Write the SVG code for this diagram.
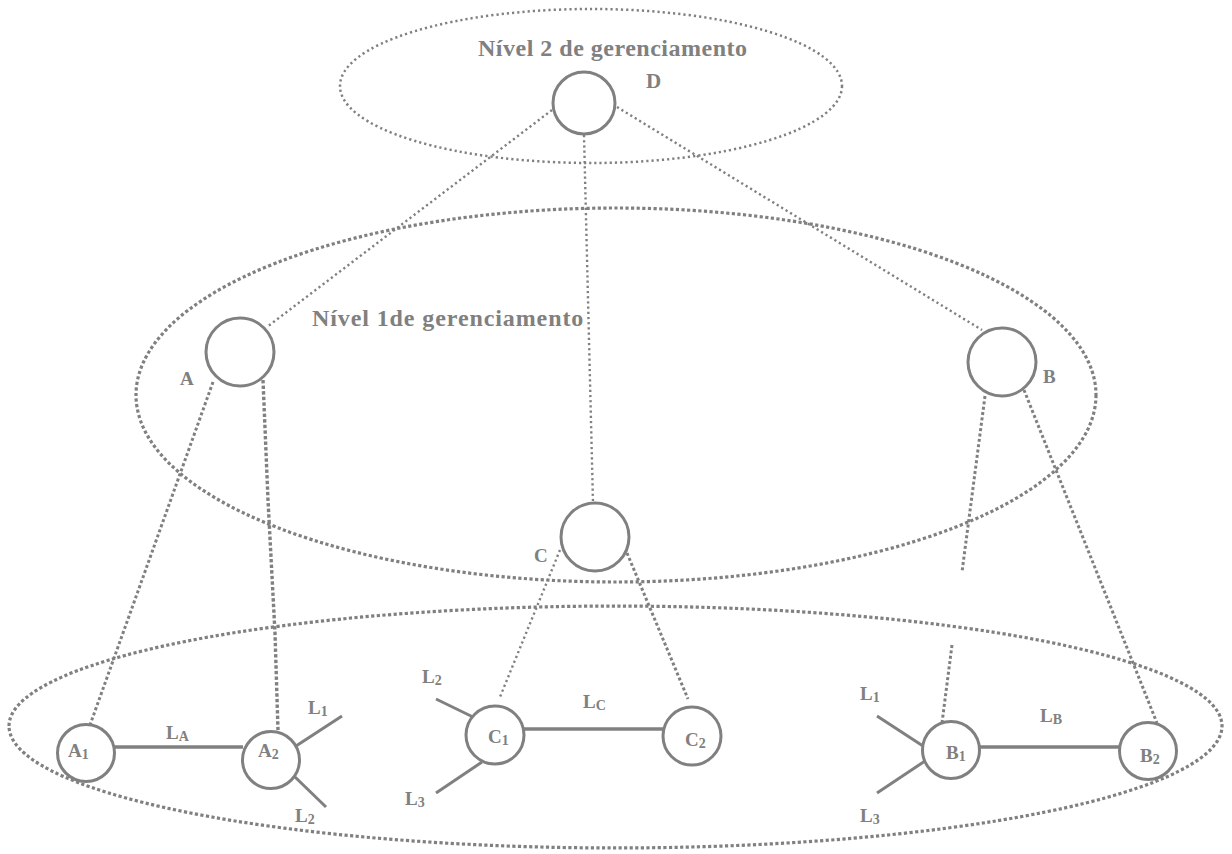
<svg xmlns="http://www.w3.org/2000/svg" width="1232" height="854" viewBox="0 0 1232 854">
  <style>
    .lvl { fill: none; stroke: #808080; }
    .lvl-fine { stroke-width: 2.5; stroke-dasharray: 2.2 3; }
    .lvl-sq { stroke-width: 3.2; stroke-dasharray: 3.2 2.4; }
    .node { fill: #ffffff; stroke: #808080; stroke-width: 3; }
    .link { fill: none; stroke: #808080; stroke-width: 3.5; stroke-linecap: butt; }
    .stub { fill: none; stroke: #808080; stroke-width: 3; }
    .mgmt-fine { fill: none; stroke: #808080; stroke-width: 2.4; stroke-dasharray: 2.2 3; }
    .mgmt-sq { fill: none; stroke: #808080; stroke-width: 3; stroke-dasharray: 3 2.4; }
    .mgmt-heavy { fill: none; stroke: #808080; stroke-width: 3.4; stroke-dasharray: 3.4 2.2; }
    text { font-family: "Liberation Serif", "Times New Roman", serif; font-weight: bold; fill: #808080; }
    .title { font-size: 24px; }
    .tag { font-size: 19px; }
    .lbl { font-size: 19px; }
    .sub { font-size: 14px; }
  </style>

  <!-- management levels -->
  <g id="level-2">
    <ellipse class="lvl lvl-fine" cx="591" cy="86" rx="251" ry="77"/>
    <text class="title" x="478" y="56" letter-spacing="0.5">Nível 2 de gerenciamento</text>
  </g>
  <g id="level-1">
    <ellipse class="lvl lvl-sq" cx="616" cy="395" rx="480" ry="187"/>
    <text class="title" x="312" y="326" letter-spacing="0.9">Nível 1de gerenciamento</text>
  </g>
  <g id="level-0">
    <path class="lvl lvl-sq" d="M 9 726 A 606.5 120 0 0 1 1222 726 A 606.5 122 0 0 1 9 726 Z"/>
  </g>

  <!-- connectors -->
  <g id="connectors">
    <!-- manager-to-manager and manager-to-agent links -->
    <line class="mgmt-fine" x1="552" y1="110" x2="267" y2="327"/>
    <line class="mgmt-fine" x1="584" y1="135" x2="593" y2="503"/>
    <line class="mgmt-fine" x1="617" y1="107" x2="982" y2="330"/>
    <line class="mgmt-sq" x1="213" y1="382" x2="90" y2="725"/>
    <polyline class="mgmt-heavy" points="263,380 268,500 275,633 278,730"/>
    <line class="mgmt-fine" x1="560" y1="550" x2="500" y2="697"/>
    <line class="mgmt-sq" x1="627" y1="553" x2="688" y2="699"/>
    <line class="mgmt-sq" x1="985" y1="396" x2="962" y2="572"/>
    <line class="mgmt-sq" x1="952" y1="645" x2="942" y2="723"/>
    <line class="mgmt-sq" x1="1024" y1="390" x2="1157" y2="723"/>

    <!-- physical links -->
    <line class="link" x1="114" y1="747" x2="243" y2="747"/>
    <line class="link" x1="524" y1="729" x2="664" y2="729"/>
    <line class="link" x1="980" y1="747" x2="1121" y2="747"/>
    <line class="stub" x1="296" y1="746" x2="342" y2="716"/>
    <line class="stub" x1="295" y1="777" x2="326" y2="807"/>
    <line class="stub" x1="436" y1="699" x2="473" y2="717"/>
    <line class="stub" x1="436" y1="793" x2="482" y2="762"/>
    <line class="stub" x1="877" y1="716" x2="923" y2="746"/>
    <line class="stub" x1="877" y1="793" x2="925" y2="761"/>

    <!-- link labels -->
    <text class="lbl" x="166" y="739">L<tspan class="sub" dy="2">A</tspan></text>
    <text class="lbl" x="308" y="714">L<tspan class="sub" dy="2">1</tspan></text>
    <text class="lbl" x="295" y="822">L<tspan class="sub" dy="2">2</tspan></text>
    <text class="lbl" x="583" y="708">L<tspan class="sub" dy="2">C</tspan></text>
    <text class="lbl" x="422" y="683">L<tspan class="sub" dy="2">2</tspan></text>
    <text class="lbl" x="405" y="805">L<tspan class="sub" dy="2">3</tspan></text>
    <text class="lbl" x="1040" y="722">L<tspan class="sub" dy="2">B</tspan></text>
    <text class="lbl" x="860" y="700">L<tspan class="sub" dy="2">1</tspan></text>
    <text class="lbl" x="860" y="822">L<tspan class="sub" dy="2">3</tspan></text>
  </g>

  <!-- managers -->
  <g id="node-D">
    <circle class="node" cx="584" cy="103" r="31"/>
    <text class="tag" x="646" y="88" style="font-size:21px">D</text>
  </g>
  <g id="node-A">
    <circle class="node" cx="240" cy="352" r="34"/>
    <text class="tag" x="180" y="385">A</text>
  </g>
  <g id="node-B">
    <circle class="node" cx="1002" cy="362" r="34"/>
    <text class="tag" x="1043" y="383">B</text>
  </g>
  <g id="node-C">
    <circle class="node" cx="595" cy="537" r="34"/>
    <text class="tag" x="534" y="562">C</text>
  </g>

  <!-- network elements -->
  <g id="node-A1">
    <circle class="node" cx="86" cy="753" r="28.5"/>
    <text class="lbl" x="68" y="757">A<tspan class="sub" dy="2">1</tspan></text>
  </g>
  <g id="node-A2">
    <circle class="node" cx="271" cy="760" r="28.5"/>
    <text class="lbl" x="258" y="757">A<tspan class="sub" dy="2">2</tspan></text>
  </g>
  <g id="node-C1">
    <circle class="node" cx="495" cy="735" r="29"/>
    <text class="lbl" x="488" y="743">C<tspan class="sub" dy="2">1</tspan></text>
  </g>
  <g id="node-C2">
    <circle class="node" cx="692" cy="736" r="29"/>
    <text class="lbl" x="685" y="746">C<tspan class="sub" dy="2">2</tspan></text>
  </g>
  <g id="node-B1">
    <circle class="node" cx="951" cy="750" r="28.5"/>
    <text class="lbl" x="946" y="759">B<tspan class="sub" dy="2">1</tspan></text>
  </g>
  <g id="node-B2">
    <circle class="node" cx="1148" cy="751" r="28.5"/>
    <text class="lbl" x="1140" y="762">B<tspan class="sub" dy="2">2</tspan></text>
  </g>
</svg>
